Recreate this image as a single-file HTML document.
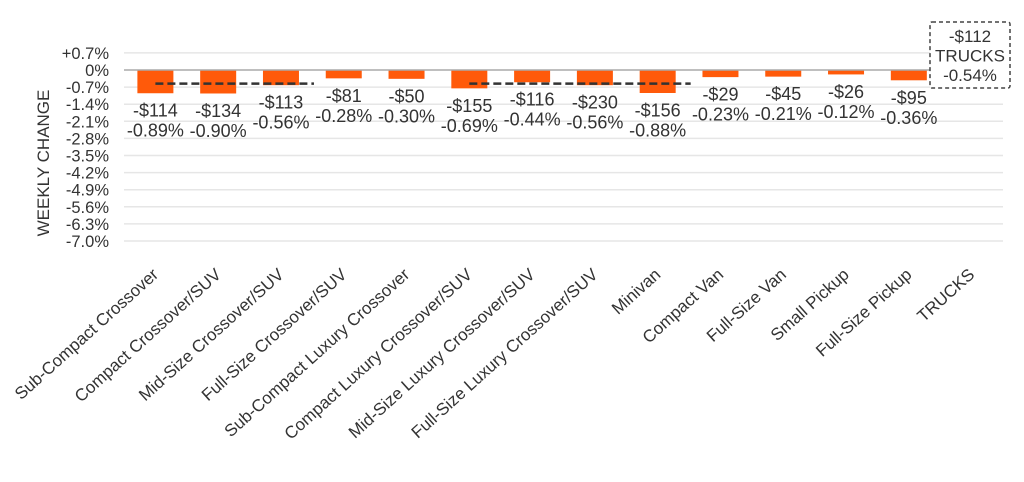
<!DOCTYPE html>
<html><head><meta charset="utf-8"><style>
body{margin:0;background:#fff;}
svg text{font-family:"Liberation Sans",Arial,sans-serif;fill:#333;}
</style></head><body>
<svg width="1024" height="477" id="chart"></svg>
<script>
const categories=["Sub-Compact Crossover","Compact Crossover/SUV","Mid-Size Crossover/SUV","Full-Size Crossover/SUV","Sub-Compact Luxury Crossover","Compact Luxury Crossover/SUV","Mid-Size Luxury Crossover/SUV","Full-Size Luxury Crossover/SUV","Minivan","Compact Van","Full-Size Van","Small Pickup","Full-Size Pickup","TRUCKS"];
const pctValues=[-0.89,-0.90,-0.56,-0.28,-0.30,-0.69,-0.44,-0.56,-0.88,-0.23,-0.21,-0.12,-0.36];
const dollarLabels=["-$114","-$134","-$113","-$81","-$50","-$155","-$116","-$230","-$156","-$29","-$45","-$26","-$95"];
const pctLabels=["-0.89%","-0.90%","-0.56%","-0.28%","-0.30%","-0.69%","-0.44%","-0.56%","-0.88%","-0.23%","-0.21%","-0.12%","-0.36%"];
const tickValues=[0.7,0,-0.7,-1.4,-2.1,-2.8,-3.5,-4.2,-4.9,-5.6,-6.3,-7.0];
const tickLabels=["+0.7%","0%","-0.7%","-1.4%","-2.1%","-2.8%","-3.5%","-4.2%","-4.9%","-5.6%","-6.3%","-7.0%"];
const avgSegments=[{from:0,to:2,value:-0.56},{from:5,to:8,value:-0.56}];
const trucks={dollar:"-$112",label:"TRUCKS",pct:"-0.54%"};

const NS="http://www.w3.org/2000/svg";
const svg=document.getElementById('chart');
const L=124,R=1003,Y0=70,PX=17.1/0.7;
const y=v=>Y0-v*PX;
const step=(R-L)/categories.length;
const xc=i=>L+step*(i+0.5);
function mk(t,a,p){const e=document.createElementNS(NS,t);for(const k in a)e.setAttribute(k,a[k]);(p||svg).appendChild(e);return e;}

tickValues.forEach((v,i)=>{
  if(v!==0){const g=mk('line',{x1:L,x2:R,y1:y(v),y2:y(v),stroke:'#e6e6e6','stroke-width':1.5});
  
  }
  const t=mk('text',{x:109,y:y(v)+6,'text-anchor':'end','font-size':16.5});
  t.textContent=tickLabels[i];
  
  
});
const yt=mk('text',{x:0,y:0,transform:'translate(49,163) rotate(-90)','text-anchor':'middle','font-size':17});
yt.textContent='WEEKLY CHANGE';



pctValues.forEach((v,i)=>{
  const b=mk('rect',{x:xc(i)-18,y:Y0,width:36,height:y(v)-Y0+1.5,fill:'#ff5a0a'});
  
  
  const t1=mk('text',{x:xc(i),y:y(v)+25,'text-anchor':'middle','font-size':18});
  t1.textContent=dollarLabels[i];
  
  
  const t2=mk('text',{x:xc(i),y:y(v)+45,'text-anchor':'middle','font-size':18});
  t2.textContent=pctLabels[i];
  
  
});
const ax=mk('line',{x1:L,x2:R,y1:Y0,y2:Y0,stroke:'#aaa','stroke-width':1.5});


avgSegments.forEach(s=>{
  const d=mk('line',{x1:xc(s.from),x2:xc(s.to)+33,y1:y(s.value),y2:y(s.value),stroke:'#333','stroke-width':2.5,'stroke-dasharray':'8,4'});
  
  
});
categories.forEach((c,i)=>{
  const t=mk('text',{x:0,y:0,transform:`translate(${xc(i)+4},${276}) rotate(-42)`,'text-anchor':'end','font-size':17});
  t.textContent=c;
  
  
});
const box=mk('rect',{x:930,y:22,width:80,height:66,fill:'#fff',stroke:'#444','stroke-width':1.5,'stroke-dasharray':'4,3',rx:2});


[trucks.dollar,trucks.label,trucks.pct].forEach((s,i)=>{
  const t=mk('text',{x:970,y:42+i*19.5,'text-anchor':'middle','font-size':17});
  t.textContent=s;
  
  
});
</script>
</body></html>
